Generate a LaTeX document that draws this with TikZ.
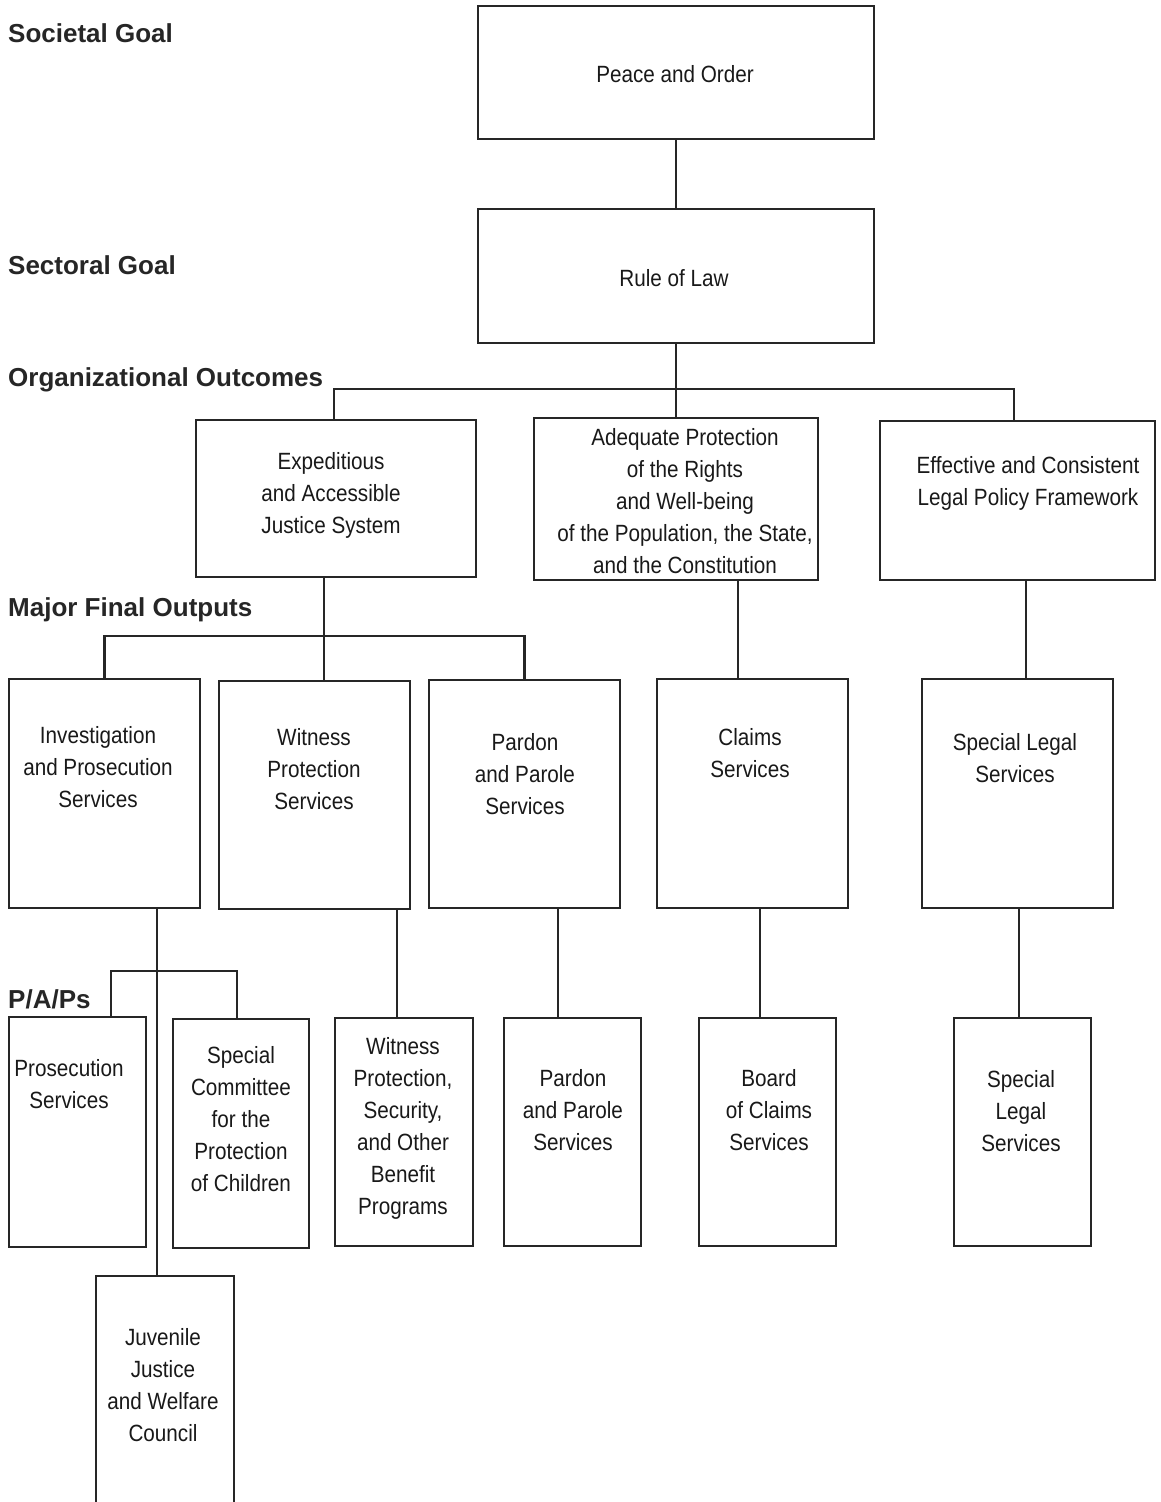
\documentclass[tikz,border=0pt]{standalone}
\usepackage{fontspec}
\setmainfont[FakeStretch=0.88]{Liberation Sans}
\newfontfamily\lblfont{Liberation Sans}
\begin{document}
\begin{tikzpicture}[x=1pt,y=-1pt,
  box/.style={draw=black!85, line width=2.4pt, inner sep=0pt, rectangle},
  txt/.style={align=center, inner sep=0pt, font=\fontsize{23.5}{32}\selectfont, text=black!90},
  lbl/.style={anchor=west, inner sep=0pt, font=\lblfont\bfseries\fontsize{26}{30}\selectfont, text=black!85},
  conn/.style={draw=black!85, line width=2.4pt}]
\useasboundingbox (0,0) rectangle (1160,1502);
\clip (0,0) rectangle (1160,1502);
\fill[white] (0,0) rectangle (1160,1502);
% level labels
\node[lbl] (l1) at (8,33) {Societal Goal};
\node[lbl] (l2) at (8,265) {Sectoral Goal};
\node[lbl] (l3) at (8,380) {Organizational Outcomes};
\node[lbl] (l4) at (8,610) {Major Final Outputs};
\node[lbl] (l5) at (8,999) {P/A/Ps};
% boxes
\node[box, minimum width=396, minimum height=133] (peace) at (676,72.5) {};
\node[box, minimum width=396, minimum height=134] (rule) at (676,276) {};
\node[box, minimum width=280, minimum height=157] (exp) at (336,498.5) {};
\node[box, minimum width=284, minimum height=162] (adeq) at (676,499) {};
\node[box, minimum width=275, minimum height=159] (eff) at (1017.5,500.5) {};
\node[box, minimum width=191, minimum height=229] (inv) at (104.5,793.5) {};
\node[box, minimum width=191, minimum height=228] (wit) at (314.5,795) {};
\node[box, minimum width=191, minimum height=228] (par) at (524.5,794) {};
\node[box, minimum width=191, minimum height=229] (clm) at (752.5,793.5) {};
\node[box, minimum width=191, minimum height=229] (spl) at (1017.5,793.5) {};
\node[box, minimum width=137, minimum height=230] (pros) at (77.5,1132) {};
\node[box, minimum width=136, minimum height=229] (spc) at (241,1133.5) {};
\node[box, minimum width=138, minimum height=228] (wps) at (404,1132) {};
\node[box, minimum width=137, minimum height=228] (ppp) at (572.5,1132) {};
\node[box, minimum width=137, minimum height=228] (boc) at (767.5,1132) {};
\node[box, minimum width=137, minimum height=228] (spl2) at (1022.5,1132) {};
\node[box, minimum width=138, minimum height=284] (juv) at (165,1418) {};
% texts
\node[txt] (tpeace) at (675,74) {Peace and Order};
\node[txt] (trule) at (674,278) {Rule of Law};
\node[txt] (texp) at (331,495) {Expeditious\\and Accessible\\Justice System};
\node[txt] (tadeq) at (685,501) {Adequate Protection\\of the Rights\\and Well-being\\of the Population, the State,\\and the Constitution};
\node[txt] (teff) at (1028,483) {Effective and Consistent\\Legal Policy Framework};
\node[txt] (tinv) at (98,767) {Investigation\\and Prosecution\\Services};
\node[txt] (twit) at (314,769) {Witness\\Protection\\Services};
\node[txt] (tpar) at (525,774) {Pardon\\and Parole\\Services};
\node[txt] (tclm) at (750,753) {Claims\\Services};
\node[txt] (tspl) at (1015,758.5) {Special Legal\\Services};
\node[txt] (tpros) at (69,1084) {Prosecution\\Services};
\node[txt] (tspc) at (241,1119) {Special\\Committee\\for the\\Protection\\of Children};
\node[txt] (twps) at (403,1128) {Witness\\Protection,\\Security,\\and Other\\Benefit\\Programs};
\node[txt] (tppp) at (573,1110) {Pardon\\and Parole\\Services};
\node[txt] (tboc) at (769,1110) {Board\\of Claims\\Services};
\node[txt] (tspl2) at (1021,1111) {Special\\Legal\\Services};
\node[txt] (tjuv) at (163,1385) {Juvenile\\Justice\\and Welfare\\Council};
% connector helper coordinates
\coordinate (ooL) at (334,389);
\coordinate (ooR) at (1014,389);
\coordinate (mA) at (324,0);
\coordinate (mB) at (0,636);
\coordinate (cA) at (738,0);
\coordinate (eA) at (1026,0);
\coordinate (iA) at (157,0);
\coordinate (pB) at (111,971);
\coordinate (pC) at (237,971);
\coordinate (wA) at (397,0);
\coordinate (pA) at (558,0);
\coordinate (bA) at (760,0);
\coordinate (sA) at (1019,0);
% connectors
\draw[conn] (peace.south) -- (rule.north);
\draw[conn] (rule.south) -- (adeq.north);
\draw[conn] (exp.north -| ooL) -- (ooL) -- (ooR) -- (eff.north -| ooR);
\draw[conn] (exp.south -| mA) -- (wit.north -| mA);
\draw[conn] (inv.north) -- (inv.north |- mB) -- (par.north |- mB) -- (par.north);
\draw[conn] (adeq.south -| cA) -- (clm.north -| cA);
\draw[conn] (eff.south -| eA) -- (spl.north -| eA);
\draw[conn] (inv.south -| iA) -- (juv.north -| iA);
\draw[conn] (pros.north -| pB) -- (pB) -- (pC) -- (spc.north -| pC);
\draw[conn] (wit.south -| wA) -- (wps.north -| wA);
\draw[conn] (par.south -| pA) -- (ppp.north -| pA);
\draw[conn] (clm.south -| bA) -- (boc.north -| bA);
\draw[conn] (spl.south -| sA) -- (spl2.north -| sA);
\end{tikzpicture}
\end{document}
